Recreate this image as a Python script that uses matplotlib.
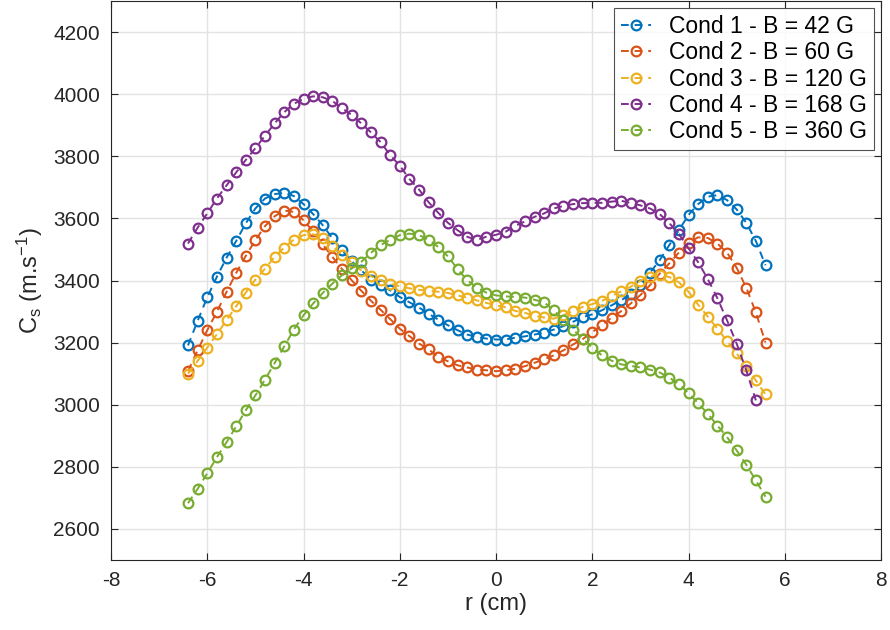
import matplotlib
matplotlib.use("Agg")
import matplotlib.pyplot as plt

plt.rcParams['font.family'] = ['Liberation Sans', 'DejaVu Sans']
plt.rcParams['mathtext.fontset'] = 'custom'
plt.rcParams['mathtext.rm'] = 'Liberation Sans'
plt.rcParams['mathtext.it'] = 'Liberation Sans'

r = [-6.4, -6.2, -6.0, -5.8, -5.6, -5.4, -5.2, -5.0, -4.8, -4.6, -4.4, -4.2, -4.0,
     -3.8, -3.6, -3.4, -3.2, -3.0, -2.8, -2.6, -2.4, -2.2, -2.0, -1.8, -1.6, -1.4,
     -1.2, -1.0, -0.8, -0.6, -0.4, -0.2, 0.0, 0.2, 0.4, 0.6, 0.8, 1.0, 1.2, 1.4,
     1.6, 1.8, 2.0, 2.2, 2.4, 2.6, 2.8, 3.0, 3.2, 3.4, 3.6, 3.8, 4.0, 4.2, 4.4,
     4.6, 4.8, 5.0, 5.2, 5.4, 5.6]

cond1 = [3191, 3270, 3346, 3412, 3473, 3527, 3584, 3632, 3664, 3678, 3683, 3672, 3646,
         3614, 3578, 3536, 3498, 3462, 3433, 3403, 3387, 3368, 3347, 3330, 3313, 3293,
         3274, 3256, 3240, 3226, 3218, 3213, 3210, 3210, 3216, 3220, 3226, 3232, 3242, 3253,
         3267, 3282, 3291, 3304, 3320, 3336, 3356, 3385, 3425, 3465, 3514, 3562, 3611, 3646, 3670,
         3675, 3659, 3629, 3586, 3527, 3449]

cond2 = [3108, 3175, 3240, 3299, 3363, 3424, 3479, 3530, 3575, 3607, 3625, 3621, 3594,
         3558, 3516, 3476, 3437, 3401, 3367, 3335, 3306, 3276, 3245, 3221, 3197, 3178,
         3154, 3140, 3127, 3120, 3113, 3111, 3108, 3111, 3116, 3124, 3135, 3146, 3159, 3175,
         3194, 3211, 3234, 3256, 3280, 3301, 3326, 3353, 3385, 3422, 3455, 3490, 3522, 3539, 3537,
         3519, 3490, 3441, 3377, 3297, 3200]

cond3 = [3100, 3141, 3184, 3227, 3272, 3317, 3361, 3403, 3438, 3476, 3506, 3532, 3546,
         3549, 3537, 3511, 3483, 3458, 3432, 3414, 3401, 3390, 3381, 3375, 3370, 3367,
         3364, 3360, 3352, 3345, 3336, 3328, 3320, 3314, 3302, 3296, 3286, 3281, 3277, 3288,
         3302, 3315, 3324, 3334, 3350, 3365, 3380, 3399, 3412, 3419, 3411, 3394, 3364, 3322, 3284,
         3245, 3205, 3165, 3124, 3078, 3033]

cond4 = [3519, 3570, 3616, 3664, 3706, 3748, 3788, 3826, 3866, 3906, 3942, 3969, 3985,
         3993, 3990, 3978, 3955, 3933, 3906, 3877, 3846, 3804, 3770, 3727, 3693, 3652,
         3618, 3586, 3562, 3541, 3530, 3541, 3547, 3557, 3576, 3590, 3605, 3616, 3632, 3640,
         3646, 3649, 3650, 3650, 3654, 3657, 3649, 3642, 3632, 3614, 3585, 3550, 3504, 3459, 3405,
         3343, 3272, 3197, 3111, 3014]

cond5 = [2683, 2729, 2779, 2831, 2879, 2930, 2982, 3030, 3081, 3134, 3188, 3242, 3288,
         3326, 3360, 3390, 3417, 3439, 3460, 3489, 3514, 3531, 3546, 3551, 3546, 3532,
         3508, 3478, 3437, 3401, 3377, 3361, 3352, 3349, 3347, 3345, 3338, 3330, 3304, 3274,
         3242, 3213, 3184, 3159, 3142, 3130, 3125, 3120, 3113, 3104, 3087, 3068, 3037, 3005, 2971,
         2933, 2896, 2853, 2807, 2756, 2704]

labels = ["Cond 1 - B = 42 G", "Cond 2 - B = 60 G", "Cond 3 - B = 120 G",
          "Cond 4 - B = 168 G", "Cond 5 - B = 360 G"]
series = [cond1, cond2, cond3, cond4, cond5]
colors = ["#0072BD", "#D95319", "#EDB120", "#7E2F8E", "#77AC30"]

xticks = [-8, -6, -4, -2, 0, 2, 4, 6, 8]
yticks = [2600, 2800, 3000, 3200, 3400, 3600, 3800, 4000, 4200]

fig = plt.figure(figsize=(8.9, 6.3), dpi=100)
ax = fig.add_axes([111/890, 1 - 560/630, (881-111)/890, (560-1)/630])

for ys, lab, c in zip(series, labels, colors):
    ax.plot(r[:len(ys)], ys, linestyle=(0, (4, 3)), marker='o', color=c,
            markerfacecolor='none', markersize=7, markeredgewidth=1.6,
            linewidth=1.4, label=lab)

ax.set_xlim(-8, 8)
ax.set_ylim(2500, 4300)
ax.set_xticks(xticks)
ax.set_yticks(yticks)
ax.set_xticklabels([str(v) for v in xticks])
ax.grid(True, color='#e3e3e3', linewidth=1.0)
ax.set_axisbelow(True)
ax.tick_params(direction='in', top=True, right=True, length=5, width=0.8,
               labelsize=15, colors='#262626', pad=8)
for sp in ax.spines.values():
    sp.set_color('#262626')
    sp.set_linewidth(0.8)

ax.set_xlabel("r (cm)", fontsize=17, color='#262626', labelpad=2)
ax.set_ylabel(r"C$_\mathrm{s}$ (m.s$^{-1}$)", fontsize=17, color='#262626', labelpad=6)

leg = ax.legend(loc='upper right', fontsize=16.5, frameon=True, fancybox=False,
                edgecolor='#262626', borderpad=0.3, labelspacing=0.15,
                handlelength=1.3, handletextpad=0.8, borderaxespad=0.3)
leg.get_frame().set_linewidth(0.8)

fig.savefig("out.png", dpi=100)
